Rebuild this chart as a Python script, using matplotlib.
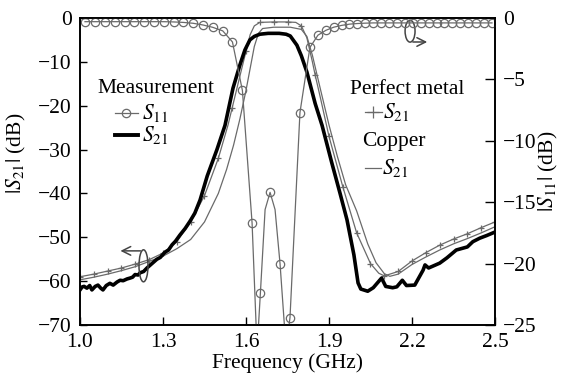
import matplotlib
matplotlib.use("Agg")
import matplotlib.pyplot as plt
from matplotlib.patches import Ellipse

plt.rcParams["font.family"] = "Liberation Serif"
plt.rcParams["mathtext.fontset"] = "stix"
plt.rcParams["font.size"] = 15.5

# Measured |S21| (dB), left axis
meas_f = [1.000, 1.008, 1.015, 1.025, 1.035, 1.043, 1.055, 1.065, 1.075, 1.083,
          1.095, 1.108, 1.120, 1.134, 1.145, 1.156, 1.170, 1.181, 1.190, 1.199,
          1.210, 1.217, 1.230, 1.242, 1.260, 1.278, 1.290, 1.307, 1.320, 1.333,
          1.345, 1.361, 1.380, 1.398, 1.415, 1.434, 1.460, 1.495, 1.524, 1.553,
          1.578, 1.596, 1.614, 1.630, 1.650, 1.680, 1.720, 1.745, 1.760, 1.784,
          1.800, 1.820, 1.850, 1.875, 1.910, 1.940, 1.965, 1.990, 2.005, 2.015,
          2.040, 2.060, 2.090, 2.105, 2.130, 2.145, 2.165, 2.180, 2.210, 2.240,
          2.247, 2.260, 2.300, 2.326, 2.360, 2.400, 2.420, 2.445, 2.470, 2.500]
meas_s21 = [-62.0, -61.3, -61.2, -61.6, -61.0, -62.0, -61.2, -60.9, -61.6, -62.0,
            -61.0, -60.5, -60.9, -60.2, -59.8, -59.9, -59.5, -59.3, -59.1, -58.5,
            -58.6, -58.1, -57.8, -57.0, -56.0, -55.0, -54.6, -53.4, -52.9, -51.7,
            -50.9, -49.5, -48.0, -46.3, -44.5, -41.5, -36.0, -30.0, -24.5, -16.0,
            -10.7, -7.3, -5.0, -4.2, -3.7, -3.5, -3.5, -3.7, -4.1, -6.2,
            -8.6, -12.3, -19.5, -24.5, -33.0, -40.0, -46.0, -54.0, -60.4, -61.8,
            -62.3, -61.5, -59.3, -61.2, -61.5, -61.3, -59.8, -61.0, -60.9, -57.5,
            -56.3, -57.0, -55.9, -54.7, -52.9, -52.2, -51.0, -50.2, -49.6, -48.8]

# Simulated |S21|, perfect metal (markers every 0.05 GHz)
perfect_f = [1.00, 1.05, 1.10, 1.15, 1.20, 1.25, 1.30, 1.35, 1.40, 1.45,
             1.50, 1.535, 1.55, 1.575, 1.60, 1.615, 1.63, 1.65, 1.70, 1.75,
             1.78, 1.80, 1.82, 1.84, 1.85, 1.87, 1.90, 1.95, 2.00, 2.05,
             2.08, 2.10, 2.15, 2.20, 2.25, 2.30, 2.35, 2.40, 2.45, 2.50]
perfect_s21 = [-59.0, -58.4, -57.7, -57.0, -56.1, -55.1, -53.6, -51.0, -46.5, -40.5,
               -32.0, -24.4, -20.5, -14.0, -7.6, -3.8, -1.8, -1.0, -0.9, -0.9,
               -1.0, -1.8, -4.5, -10.0, -13.0, -18.5, -27.0, -38.5, -49.0, -56.0,
               -58.2, -58.8, -57.8, -55.4, -53.5, -51.8, -50.4, -49.2, -47.8, -46.5]

# Simulated |S21|, copper
copper_f = [1.00, 1.05, 1.10, 1.15, 1.20, 1.25, 1.30, 1.35, 1.40, 1.45,
            1.50, 1.53, 1.555, 1.578, 1.60, 1.615, 1.63, 1.645, 1.66, 1.70,
            1.76, 1.80, 1.82, 1.84, 1.87, 1.90, 1.93, 1.96, 2.00, 2.04,
            2.07, 2.10, 2.12, 2.15, 2.20, 2.25, 2.30, 2.35, 2.40, 2.45, 2.50]
copper_s21 = [-59.7, -59.1, -58.4, -57.6, -56.7, -55.5, -54.3, -52.6, -50.5, -46.5,
              -40.0, -34.5, -29.0, -23.0, -16.5, -11.5, -6.5, -3.5, -2.4, -2.1,
              -2.1, -2.6, -4.2, -8.5, -16.5, -24.4, -31.5, -38.0, -44.0, -51.5,
              -55.8, -58.3, -58.9, -58.4, -56.2, -54.5, -52.9, -51.5, -50.3, -49.0, -47.6]

# Measured |S11| (dB), right axis
s11_f = [1.018, 1.054, 1.090, 1.125, 1.161, 1.196, 1.232, 1.267, 1.303, 1.338,
         1.374, 1.409, 1.445, 1.480, 1.516, 1.551, 1.587, 1.622, 1.640, 1.652,
         1.669, 1.687, 1.705, 1.723, 1.745, 1.759, 1.795, 1.831, 1.860, 1.889,
         1.917, 1.946, 1.974, 2.003, 2.031, 2.060, 2.089, 2.117, 2.146, 2.174,
         2.203, 2.231, 2.260, 2.289, 2.317, 2.346, 2.374, 2.403, 2.431, 2.460, 2.489]
s11_db = [-0.30, -0.30, -0.30, -0.30, -0.30, -0.30, -0.30, -0.30, -0.30, -0.32,
          -0.36, -0.43, -0.57, -0.76, -1.05, -1.95, -5.9, -16.7, -27.0, -22.4,
          -15.6, -14.2, -15.6, -20.0, -27.0, -24.4, -7.7, -2.4, -1.4, -1.0,
          -0.75, -0.6, -0.5, -0.45, -0.42, -0.4, -0.4, -0.4, -0.4, -0.4,
          -0.4, -0.4, -0.4, -0.4, -0.4, -0.4, -0.4, -0.4, -0.4, -0.4, -0.4]
s11_unmarked = [1.640, 1.669, 1.705, 1.745]

gray = "#6a6a6a"

fig = plt.figure(figsize=(5.63, 3.80), dpi=100)
ax = fig.add_axes([80 / 563, 1 - 325 / 380, 415 / 563, 307 / 380])
ax2 = ax.twinx()

perfect_marks = [i for i, f in enumerate(perfect_f) if round(f * 100) % 5 == 0]
ax.plot(perfect_f, perfect_s21, color=gray, lw=0.9, marker="+", ms=5, mew=0.9,
        markevery=perfect_marks, zorder=2)
ax.plot(copper_f, copper_s21, color=gray, lw=0.9, zorder=2)
ax.plot(meas_f, meas_s21, color="black", lw=2.6, solid_joinstyle="round", zorder=3)

s11_marks = [i for i, f in enumerate(s11_f) if f not in s11_unmarked]
ax2.plot(s11_f, s11_db, color=gray, lw=0.9, marker="o", ms=6, mfc="none", mew=0.9,
         markevery=s11_marks)

ax.set_xlim(1.0, 2.5)
ax.set_ylim(-70, 0)
ax2.set_ylim(-25, 0)
ax.set_xticks([1.0, 1.3, 1.6, 1.9, 2.2, 2.5])
ax.set_xticklabels(["1.0", "1.3", "1.6", "1.9", "2.2", "2.5"])
ax.set_yticks(range(-70, 1, 10))
ax2.set_yticks(range(-25, 1, 5))
ax.tick_params(direction="in", length=5, width=1, pad=6)
ax.tick_params(axis="x", length=6)
ax2.tick_params(direction="in", length=7, width=1, pad=6)
for a in (ax, ax2):
    for s in a.spines.values():
        s.set_linewidth(1.2)

ax.set_xlabel("Frequency (GHz)", labelpad=1)
ax.set_ylabel(r"$|S_{21}|$ (dB)", labelpad=2)
ax.yaxis.set_label_coords(-0.125, 0.56)
ax2.set_ylabel(r"$|S_{11}|$ (dB)", labelpad=0)

# annotation: ellipses and arrows pointing to the proper axis
ax.add_patch(Ellipse((1.2295, -56.5), 0.0325, 7.3, fill=False, ec="#444444", lw=1.1, zorder=4))
ax.annotate("", xy=(1.136, -53.1), xytext=(1.229, -53.1),
            arrowprops=dict(arrowstyle="->", color="#444444", lw=1.1), zorder=4)
ax.add_patch(Ellipse((2.193, -3.0), 0.036, 5.0, fill=False, ec="#444444", lw=1.1, zorder=4))
ax.annotate("", xy=(2.265, -5.47), xytext=(2.193, -5.47),
            arrowprops=dict(arrowstyle="->", color="#444444", lw=1.1), zorder=4)

# legend blocks
t = ax.transAxes
ax.text(0.041, 0.756, "Measurement", transform=t, va="baseline", ha="left")
ax.plot([0.084, 0.140], [0.691, 0.691], transform=t, color=gray, lw=0.9)
ax.plot([0.112], [0.691], transform=t, color=gray, marker="o", ms=6, mfc="none", mew=0.9)
ax.text(0.149, 0.691, r"$S_{11}$", transform=t, va="center", ha="left")
ax.plot([0.084, 0.140], [0.619, 0.619], transform=t, color="black", lw=2.8)
ax.text(0.149, 0.619, r"$S_{21}$", transform=t, va="center", ha="left")

ax.text(0.651, 0.754, "Perfect metal", transform=t, va="baseline", ha="left")
ax.plot([0.687, 0.727], [0.694, 0.694], transform=t, color=gray, lw=0.9)
ax.plot([0.707], [0.694], transform=t, color=gray, marker="+", ms=9, mew=0.9)
ax.text(0.730, 0.694, r"$S_{21}$", transform=t, va="center", ha="left")
ax.text(0.680, 0.583, "Copper", transform=t, va="baseline", ha="left")
ax.plot([0.687, 0.725], [0.513, 0.513], transform=t, color=gray, lw=0.9)
ax.text(0.727, 0.513, r"$S_{21}$", transform=t, va="center", ha="left")

fig.savefig("out.png", dpi=100)
